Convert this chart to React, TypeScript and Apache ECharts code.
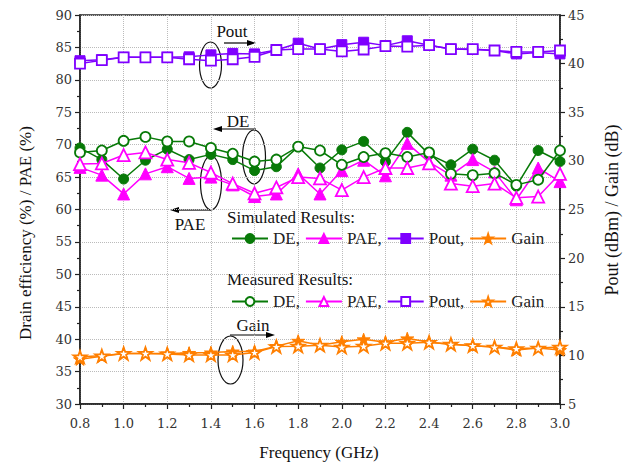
import React, { useEffect, useRef } from "react";
import * as echarts from "echarts";

const freq = [0.8, 0.9, 1.0, 1.1, 1.2, 1.3, 1.4, 1.5, 1.6, 1.7, 1.8, 1.9, 2.0, 2.1, 2.2, 2.3, 2.4, 2.5, 2.6, 2.7, 2.8, 2.9, 3.0];

const simDE = [69.5, 67.7, 64.7, 67.6, 69.3, 67.7, 68.5, 67.7, 66.0, 66.6, 69.7, 66.4, 69.2, 70.5, 67.4, 71.9, 68.5, 66.9, 69.3, 67.6, 63.6, 69.1, 67.4];
const measDE = [68.8, 69.1, 70.6, 71.2, 70.5, 70.5, 69.5, 68.6, 67.4, 67.7, 69.7, 69.1, 66.9, 68.1, 68.7, 68.1, 68.8, 65.5, 65.3, 65.6, 63.8, 64.6, 69.1];
const simPAE = [66.5, 65.3, 62.4, 65.5, 66.6, 64.8, 65.0, 63.8, 62.0, 62.4, 65.5, 62.4, 66.0, 67.6, 65.2, 70.2, 67.3, 65.3, 67.7, 65.8, 61.5, 66.4, 64.3];
const measPAE = [67.0, 67.1, 68.4, 68.8, 67.7, 67.2, 65.7, 64.0, 62.5, 63.4, 65.0, 64.8, 63.0, 65.0, 66.4, 66.4, 67.1, 64.0, 63.6, 64.0, 61.8, 62.0, 65.5];
const simPout = [40.3, 40.4, 40.65, 40.65, 40.65, 40.7, 40.9, 41.05, 41.0, 41.4, 42.1, 41.5, 41.95, 42.2, 41.85, 42.35, 41.9, 41.5, 41.45, 41.35, 41.0, 41.15, 41.0];
const measPout = [40.0, 40.35, 40.65, 40.65, 40.65, 40.45, 40.3, 40.45, 40.7, 41.4, 41.5, 41.5, 41.25, 41.45, 41.8, 41.75, 41.9, 41.5, 41.5, 41.35, 41.2, 41.2, 41.35];
const simGain = [9.6, 9.9, 10.2, 10.2, 10.2, 10.25, 10.3, 10.4, 10.4, 10.95, 11.5, 11.05, 11.4, 11.65, 11.35, 11.75, 11.35, 11.15, 11.0, 10.85, 10.55, 10.75, 10.55];
const measGain = [9.85, 9.95, 10.2, 10.2, 10.15, 10.05, 10.05, 10.05, 10.3, 10.9, 10.95, 11.05, 10.85, 10.95, 11.25, 11.25, 11.35, 11.15, 11.0, 10.85, 10.7, 10.75, 10.85];

const legendNames: Record<string, string> = {
  sDE: "DE,", sPAE: "PAE,", sPout: "Pout,", sGain: "Gain",
  mDE: "DE,", mPAE: "PAE,", mPout: "Pout,", mGain: "Gain",
};

const GREEN = "#087a08";
const MAGENTA = "#ff00ff";
const PURPLE = "#7f00ff";
const ORANGE = "#ff7f00";
const STAR = "path://M12,0 L14.9,8.6 L24,8.6 L16.6,14 L19.4,22.6 L12,17.3 L4.6,22.6 L7.4,14 L0,8.6 L9.1,8.6 Z";
const SERIF = "'Liberation Serif', 'Times New Roman', serif";
const TICKFONT = "'DejaVu Serif', serif";

function pairs(vals: number[]) {
  return freq.map((f, i) => [f, vals[i]]);
}

function mk(name: string, vals: number[], color: string, symbol: string, size: number, filled: boolean, yIdx: number) {
  return {
    name,
    type: "line",
    yAxisIndex: yIdx,
    data: pairs(vals),
    symbol,
    symbolSize: size,
    symbolKeepAspect: true,
    showAllSymbol: true,
    z: filled ? 2 : 3,
    lineStyle: { color, width: 1.5 },
    itemStyle: filled
      ? { color, borderColor: color, borderWidth: 1 }
      : { color: "#ffffff", borderColor: color, borderWidth: 1.8 },
    emphasis: { disabled: true },
  };
}

function arrow(x1: number, y: number, x2: number) {
  const dir = x2 > x1 ? 1 : -1;
  const hl = 9;
  return [
    { type: "line", shape: { x1, y1: y, x2: x2 - dir * hl, y2: y }, style: { stroke: "#000", lineWidth: 1.2 } },
    {
      type: "polygon",
      shape: { points: [[x2, y], [x2 - dir * hl, y - 3], [x2 - dir * hl, y + 3]] },
      style: { fill: "#000" },
    },
  ];
}

function ell(cx: number, cy: number, rx: number, ry: number) {
  return { type: "ellipse", shape: { cx, cy, rx, ry }, style: { fill: "none", stroke: "#111", lineWidth: 1.2 } };
}

function txt(x: number, y: number, text: string, size: number, align = "center", rotation = 0) {
  return {
    type: "text",
    x,
    y,
    rotation,
    style: { text, fontFamily: SERIF, fontSize: size, fill: "#111", align, verticalAlign: "middle" },
  };
}

export default function App() {
  const ref = useRef<HTMLDivElement>(null);
  useEffect(() => {
    if (!ref.current) return;
    const chart = echarts.init(ref.current, undefined, { renderer: "svg" });
    const legendCommon = {
      orient: "horizontal",
      itemWidth: 36,
      itemHeight: 11,
      itemGap: 5,
      selectedMode: false,
      formatter: (n: string) => legendNames[n] || n,
      textStyle: { fontFamily: SERIF, fontSize: 17, color: "#222" },
    };
    const tickLabel = { fontFamily: TICKFONT, fontSize: 13, color: "#333" };
    chart.setOption({
      animation: false,
      backgroundColor: "#fff",
      textStyle: { fontFamily: SERIF },
      grid: { left: 80, right: 73, top: 15, bottom: 63, show: true, borderColor: "#222", borderWidth: 1.5 },
      legend: [
        { ...legendCommon, data: ["sDE", "sPAE", "sPout", "sGain"], left: 226, top: 225 },
        { ...legendCommon, data: ["mDE", "mPAE", "mPout", "mGain"], left: 226, top: 288 },
      ],
      xAxis: {
        type: "value",
        min: 0.8,
        max: 3.0,
        interval: 0.2,
        axisLine: { lineStyle: { color: "#222", width: 1.5 } },
        axisTick: { show: true, length: 5, lineStyle: { color: "#222", width: 1.2 } },
        minorTick: { show: true, splitNumber: 2, length: 3, lineStyle: { color: "#222", width: 1.2 } },
        axisLabel: { margin: 13, ...tickLabel, formatter: (v: number) => v.toFixed(1) },
        splitLine: { show: true, lineStyle: { type: "dotted", color: "#bbb", width: 1 } },
      },
      yAxis: [
        {
          type: "value",
          min: 30,
          max: 90,
          interval: 5,
          position: "left",
          axisLine: { show: true, lineStyle: { color: "#222", width: 1.5 } },
          axisTick: { show: true, length: 5, lineStyle: { color: "#222", width: 1.2 } },
          minorTick: { show: true, splitNumber: 2, length: 3, lineStyle: { color: "#222", width: 1.2 } },
          axisLabel: { margin: 8, ...tickLabel },
          splitLine: { show: true, lineStyle: { type: "dotted", color: "#bbb", width: 1 } },
        },
        {
          type: "value",
          min: 5,
          max: 45,
          interval: 5,
          position: "right",
          axisLine: { show: true, lineStyle: { color: "#222", width: 1.5 } },
          axisTick: { show: true, length: 5, lineStyle: { color: "#222", width: 1.2 } },
          minorTick: { show: true, splitNumber: 2, length: 3, lineStyle: { color: "#222", width: 1.2 } },
          axisLabel: { margin: 8, ...tickLabel },
          splitLine: { show: false },
        },
      ],
      series: [
        mk("sDE", simDE, GREEN, "circle", 10, true, 0),
        mk("sPAE", simPAE, MAGENTA, "triangle", 12, true, 0),
        mk("sPout", simPout, PURPLE, "rect", 10, true, 1),
        mk("sGain", simGain, ORANGE, STAR, 13, true, 1),
        mk("mDE", measDE, GREEN, "circle", 10, false, 0),
        mk("mPAE", measPAE, MAGENTA, "triangle", 12, false, 0),
        mk("mPout", measPout, PURPLE, "rect", 10, false, 1),
        mk("mGain", measGain, ORANGE, STAR, 13, false, 1),
      ],
      graphic: [
        txt(25, 233, "Drain efficiency (%) / PAE (%)", 17, "center", Math.PI / 2),
        txt(612, 210, "Pout (dBm) / Gain (dB)", 18, "center", Math.PI / 2),
        txt(319, 452, "Frequency (GHz)", 17),
        txt(227, 217, "Simulated Results:", 17, "left"),
        txt(227, 279, "Measured Results:", 17, "left"),
        txt(232, 31, "Pout", 17),
        ...arrow(224, 43, 256),
        ell(210.5, 65, 11, 23),
        txt(238, 121, "DE", 17),
        ...arrow(256, 129, 213),
        ell(254, 157, 11.5, 27),
        txt(190, 224, "PAE", 17),
        ...arrow(211, 210, 170),
        ell(211, 183, 10.5, 27),
        txt(253, 325, "Gain", 17),
        ...arrow(230, 335, 275),
        ell(230.5, 360, 12.5, 24),
      ],
    });
    return () => chart.dispose();
  }, []);
  return <div ref={ref} style={{ width: 633, height: 467, position: "absolute", left: 0, top: 0 }} />;
}
